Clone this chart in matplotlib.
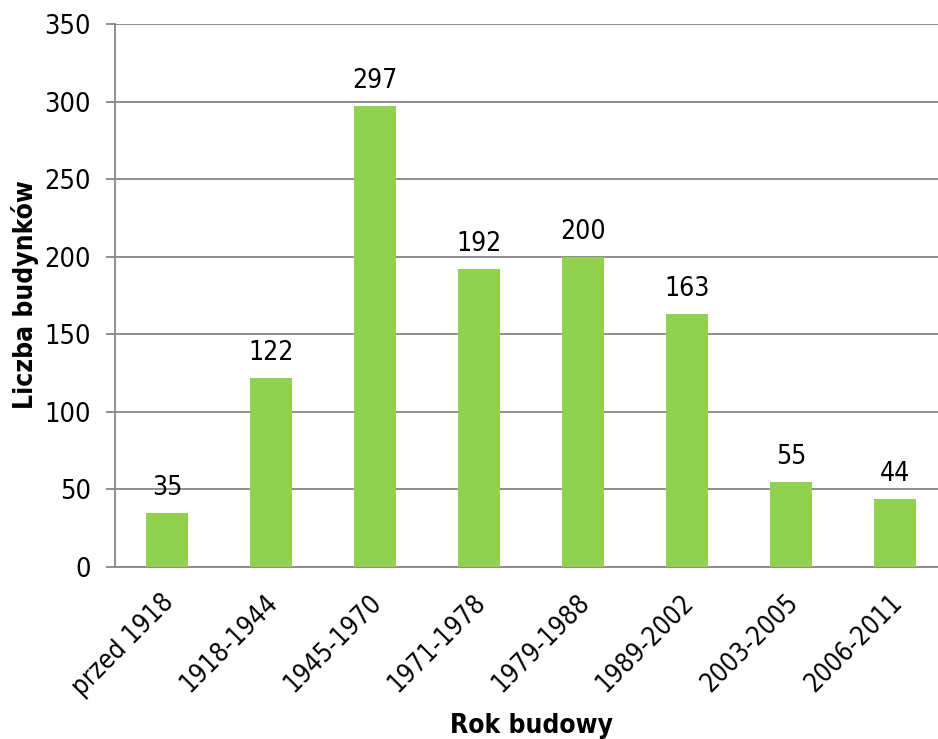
import matplotlib
matplotlib.use("Agg")
import matplotlib.pyplot as plt
import matplotlib.transforms as mtransforms

categories = ["przed 1918", "1918-1944", "1945-1970", "1971-1978",
              "1979-1988", "1989-2002", "2003-2005", "2006-2011"]
values = [35, 122, 297, 192, 200, 163, 55, 44]
yticks = [0, 50, 100, 150, 200, 250, 300, 350]

plt.rcParams['font.family'] = ['DejaVu Sans']
plt.rcParams['font.stretch'] = 'condensed'

fig = plt.figure(figsize=(9.38, 7.39), dpi=100)
W, H = 938, 739
left, right, top, bottom = 115, 947, 24, 567
ax = fig.add_axes([left / W, 1 - bottom / H, (right - left) / W, (bottom - top) / H])

x = list(range(len(categories)))
ax.bar(x, values, width=0.4, color="#92D050", zorder=3)
for xi, v in zip(x, values):
    ax.annotate(str(v), (xi, v), xytext=(0, 12.8), textcoords="offset points",
                ha="center", va="baseline", fontsize=19, color="#000000", zorder=4)

ax.set_xlim(-0.5, len(categories) - 0.5)
ax.set_ylim(0, 350)
ax.set_yticks(yticks)
ax.set_yticklabels([str(t) for t in yticks], fontsize=19.5)
ax.yaxis.grid(True, color="#868686", linewidth=1.3, zorder=0)
ax.set_axisbelow(True)

ax.set_xticks(x)
ax.set_xticklabels(categories, rotation=45, ha="right", rotation_mode="anchor",
                   fontsize=18.5)
ax.tick_params(axis="x", length=0, pad=16)
ax.tick_params(axis="y", length=6.5, width=1.3, color="#868686", pad=11)
shift = mtransforms.ScaledTranslation(-6 / 100, 0, fig.dpi_scale_trans)
for lbl in ax.get_xticklabels():
    lbl.set_transform(lbl.get_transform() + shift)

for s in ["top", "right"]:
    ax.spines[s].set_visible(False)
for s in ["left", "bottom"]:
    ax.spines[s].set_color("#868686")
    ax.spines[s].set_linewidth(1.3)

fig.text(25 / W, 1 - 295 / H, "Liczba budynków", rotation=90, ha="center",
         va="center", fontsize=19, fontweight="bold")
fig.text(531 / W, 1 - 733 / H, "Rok budowy", ha="center", va="baseline",
         fontsize=19, fontweight="bold")

fig.savefig("out.png", dpi=100)
